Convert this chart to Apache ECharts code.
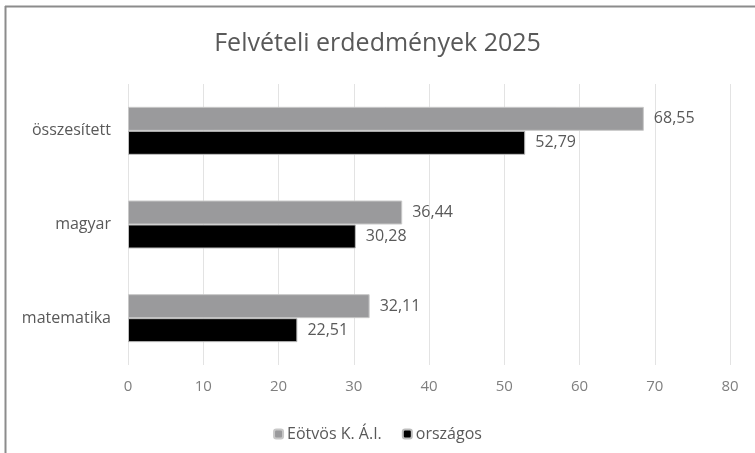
<!DOCTYPE html>
<html>
<head>
<meta charset="utf-8">
<script src="https://cdn.jsdelivr.net/npm/echarts@6/dist/echarts.min.js"></script>
<style>
  html, body { margin: 0; padding: 0; background: #fff; }
  #main { width: 755px; height: 453px; }
</style>
</head>
<body>
<div id="main"></div>
<script>
// kategóriák alulról felfelé
var categories = ['matematika', 'magyar', 'összesített'];
var seriesNames = ['Eötvös K. Á.I.', 'országos'];
var eotvos = [32.11, 36.44, 68.55];
var orszagos = [22.51, 30.28, 52.79];
var xTicks = [0, 80, 10]; // min, max, interval

function fmt(p) {
    return p.value.toFixed(2).replace('.', ',');
}

var myChart = echarts.init(document.getElementById('main'));
var font = '"Open Sans", sans-serif';
var option = {
    animation: false,
    title: {
        text: 'Felvételi erdedmények 2025',
        left: 'center',
        top: 26,
        textStyle: { fontFamily: font, fontSize: 25, fontWeight: 'normal', color: '#595959' }
    },
    legend: {
        data: seriesNames,
        top: 421,
        left: 'center',
        itemWidth: 9,
        itemHeight: 9,
        itemGap: 20,
        textStyle: { fontFamily: font, fontSize: 16, color: '#595959', padding: [0, 0, 0, -1] }
    },
    grid: { left: 128, right: 25, top: 84, bottom: 88 },
    xAxis: {
        type: 'value',
        min: xTicks[0],
        max: xTicks[1],
        interval: xTicks[2],
        axisLine: { show: false },
        axisTick: { show: false },
        axisLabel: { fontFamily: font, fontSize: 15, color: '#7f7f7f', margin: 14 },
        splitLine: { lineStyle: { color: '#e3e3e3', width: 1 } }
    },
    yAxis: {
        type: 'category',
        data: categories,
        axisLine: { show: false },
        axisTick: { show: false },
        axisLabel: { fontFamily: font, fontSize: 16, color: '#595959', margin: 17 }
    },
    series: [
        {
            name: seriesNames[0],
            type: 'bar',
            data: eotvos,
            barWidth: 24,
            barGap: '0%',
            itemStyle: { color: '#9a9a9c', borderColor: '#c8c8c8', borderWidth: 1 },
            label: { show: true, position: 'right', distance: 10, formatter: fmt,
                     fontFamily: font, fontSize: 16, color: '#595959' }
        },
        {
            name: seriesNames[1],
            type: 'bar',
            data: orszagos,
            barWidth: 24,
            barGap: '0%',
            itemStyle: { color: '#000000', borderColor: '#bdbdbd', borderWidth: 1 },
            label: { show: true, position: 'right', distance: 10, formatter: fmt,
                     fontFamily: font, fontSize: 16, color: '#595959' }
        }
    ],
    graphic: [
        { type: 'line', shape: { x1: 5, y1: 6.5, x2: 755, y2: 6.5 }, style: { stroke: '#8c8c8c', lineWidth: 2 } },
        { type: 'line', shape: { x1: 5.5, y1: 6, x2: 5.5, y2: 453 }, style: { stroke: '#8c8c8c', lineWidth: 2 } }
    ]
};
myChart.setOption(option);
</script>
</body>
</html>
